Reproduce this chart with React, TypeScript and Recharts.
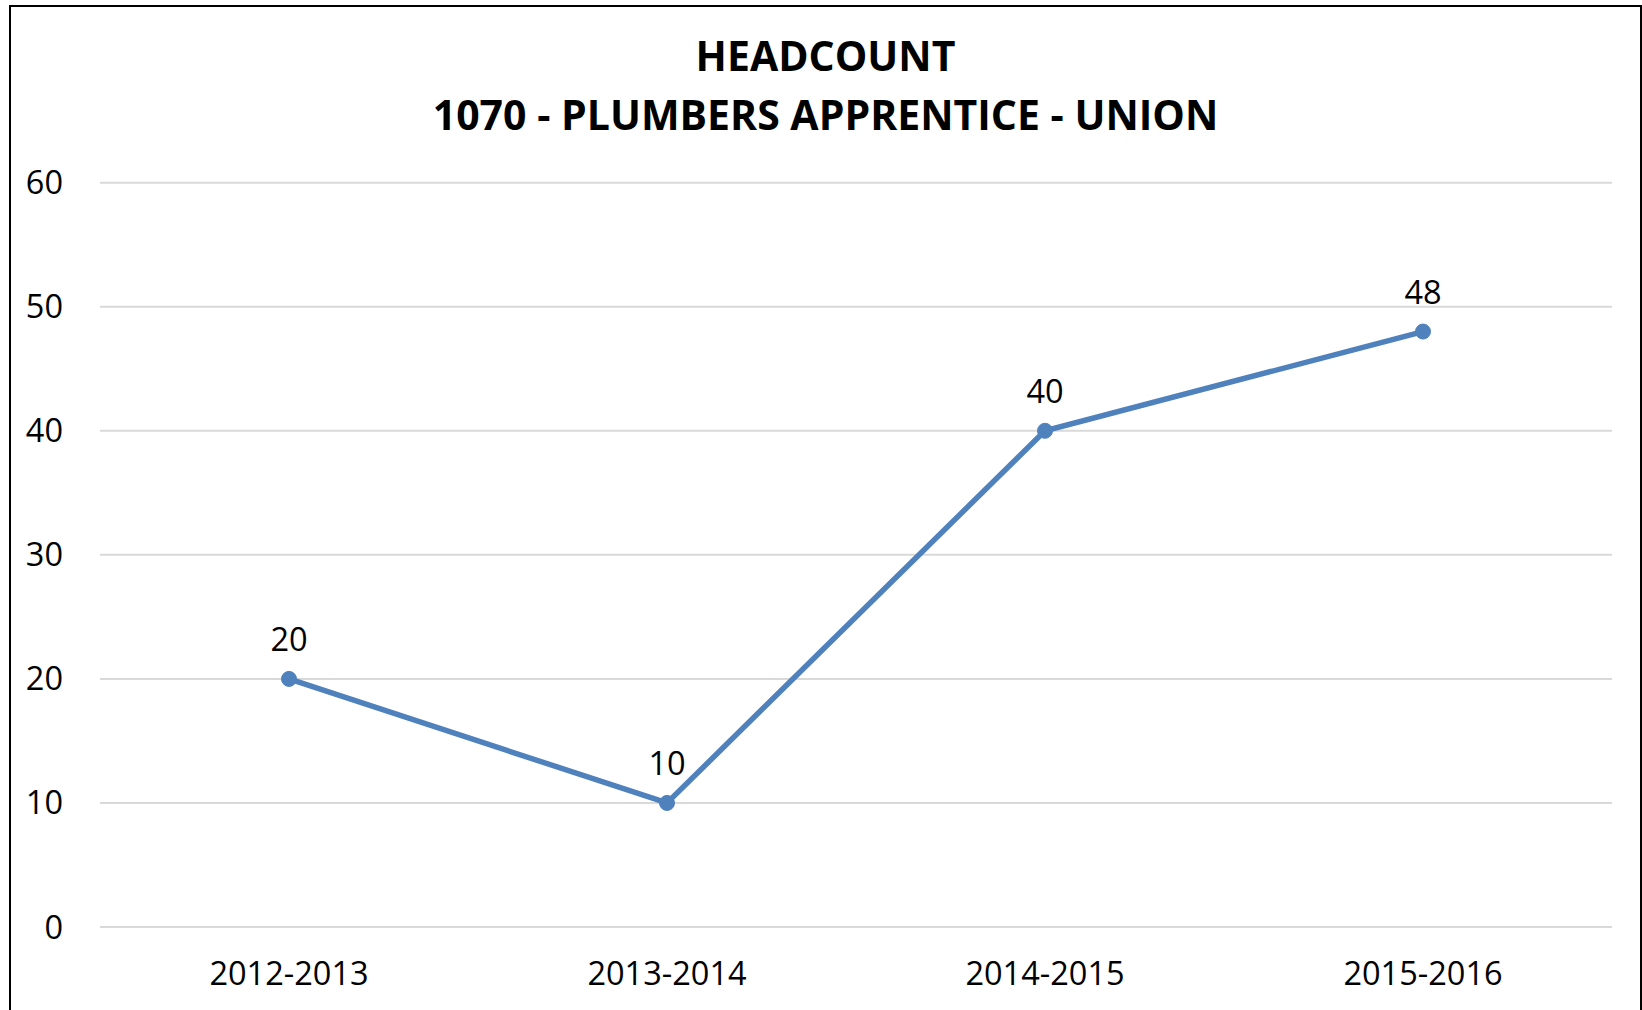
import { LineChart, Line, XAxis, YAxis, CartesianGrid, LabelList } from "recharts";

const years = ["2012-2013", "2013-2014", "2014-2015", "2015-2016"];
const headcount = [20, 10, 40, 48];
const yTicks = [0, 10, 20, 30, 40, 50, 60];
const titleLines = ["HEADCOUNT", "1070 - PLUMBERS APPRENTICE - UNION"];

const data = years.map((year, i) => ({ year, headcount: headcount[i] }));

const FONT = "'Open Sans', Calibri, sans-serif";
const BLUE = "#4F81BD";

export default function App() {
  return (
    <div
      style={{
        position: "absolute",
        left: 9,
        top: 5,
        width: 1633,
        height: 1005,
        boxSizing: "border-box",
        border: "2px solid #000",
        borderBottom: "none",
        background: "#fff",
        fontFamily: FONT,
      }}
    >
      {/* title */}
      <div
        style={{
          position: "absolute",
          left: 0,
          right: 0,
          top: 19,
          textAlign: "center",
          fontWeight: 700,
          fontSize: 41,
          lineHeight: "59px",
          color: "#000",
        }}
      >
        {titleLines.map((t) => (
          <div key={t}>{t}</div>
        ))}
      </div>

      <LineChart
        width={1629}
        height={1003}
        data={data}
        margin={{ top: 175.7, right: 28, bottom: 53, left: 0 }}
      >
        <CartesianGrid vertical={false} stroke="#D9D9D9" strokeWidth={2} />
        <XAxis
          dataKey="year"
          scale="band"
          height={30}
          axisLine={false}
          tickLine={false}
          tickSize={0}
          tickMargin={35}
          tick={{ fill: "#000", fontSize: 32.5, fontFamily: FONT }}
        />
        <YAxis
          width={89}
          domain={[0, 60]}
          ticks={yTicks}
          axisLine={false}
          tickLine={false}
          tickSize={0}
          tickMargin={37}
          tick={{ fill: "#000", fontSize: 32.5, fontFamily: FONT }}
        />
        <Line
          type="linear"
          dataKey="headcount"
          stroke={BLUE}
          strokeWidth={5.5}
          dot={{ r: 7.5, fill: BLUE, stroke: BLUE, strokeWidth: 1 }}
          activeDot={false}
          isAnimationActive={false}
        >
          <LabelList
            dataKey="headcount"
            position="top"
            offset={28}
            fill="#000"
            fontSize={32.5}
            fontFamily={FONT}
          />
        </Line>
      </LineChart>
    </div>
  );
}
